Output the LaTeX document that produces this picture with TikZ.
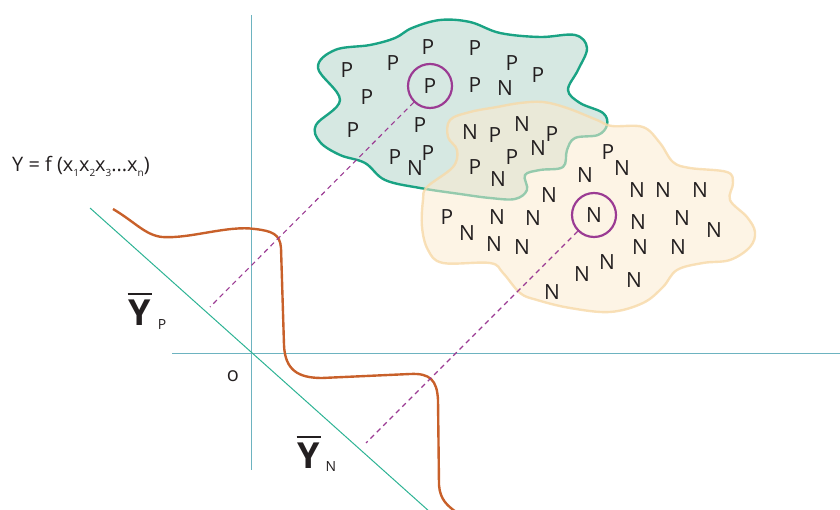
\documentclass[tikz,border=0pt]{standalone}
\usepackage{fontspec}
\setmainfont{Open Sans}
\begin{document}
\begin{tikzpicture}[x=1bp,y=-1bp,
  lt/.style={inner sep=0pt,font=\fontsize{21}{21}\selectfont,text=txt},
  ring/.style={draw=ringc,line width=2.2pt,circle,minimum size=44bp,inner sep=0pt,font=\fontsize{21}{21}\selectfont,text=txt},
  dsh/.style={draw=ringc,line width=1.1pt,dash pattern=on 5bp off 4bp},
  axis/.style={draw=axc,line width=1pt},
  bigY/.style={inner sep=0pt,font=\fontsize{36}{36}\selectfont\bfseries,text=txt},
  smallsub/.style={inner sep=0pt,font=\fontsize{14}{14}\selectfont,text=txt}]
\definecolor{txt}{HTML}{231F20}
\definecolor{ringc}{HTML}{9B3B93}
\definecolor{axc}{HTML}{6DB3C0}
\definecolor{diagc}{HTML}{2DB394}
\definecolor{curvec}{HTML}{C8602A}
\definecolor{gfill}{HTML}{D6E8E2}
\definecolor{gline}{HTML}{1AA384}
\definecolor{ofill}{HTML}{FBEBD0}
\definecolor{oline}{HTML}{F7D9A8}
\useasboundingbox (0,0) rectangle (840,510);
% green blob
\path[fill=gfill,draw=gline,line width=2.4pt] plot[smooth cycle,tension=0.6] coordinates{
(318,68) (335,50) (370,45) (395,38) (412,28) (440,20) (470,22) (500,33) (540,37) (575,35) (587,48) (578,70) (568,90) (580,103) (603,113) (607,125) (598,135) (575,138) (567,150) (563,167) (540,170) (525,175) (527,190) (515,199) (490,198) (460,194) (420,188) (385,180) (365,163) (340,155) (320,142) (316,125) (340,100)};
% orange blob
\path[fill=ofill,fill opacity=0.55,draw=oline,draw opacity=0.8,line width=2.4pt] plot[smooth cycle,tension=0.6] coordinates{
(450,120) (470,112) (497,107) (520,103) (543,102) (567,108) (597,120) (612,126) (643,127) (660,143) (673,162) (690,168) (727,172) (733,183) (730,200) (747,217) (755,232) (750,247) (730,260) (703,263) (677,270) (663,287) (643,303) (610,312) (570,308) (537,300) (520,293) (503,273) (490,263) (443,263) (428,250) (422,227) (423,200) (427,187) (453,167) (457,150) (448,137)};
% axes
\coordinate (vt) at (251,15); \coordinate (vb) at (251,470);
\coordinate (hl) at (172,353); \coordinate (hr) at (840,353);
\draw[axis] (vt) -- (vb);
\draw[axis] (hl) -- (hr);
% diagonal
\coordinate (d1) at (90,208); \coordinate (d2) at (430,512);
\draw[draw=diagc,line width=1pt] (d1) -- (d2);
% curve
\coordinate (c0) at (113,209);
\coordinate (c9) at (456,512);
\draw[draw=curvec,line width=2.4pt,line join=round] (c0) .. controls (135,222) and (145,235) .. (162,237)
  .. controls (190,239) and (228,225) .. (255,229)
  .. controls (272,231) and (280,234) .. (281,248)
  -- (284,345) .. controls (285,370) and (298,378) .. (322,378)
  -- (410,374) .. controls (430,373) and (437,380) .. (438,400)
  -- (439,485) .. controls (440,500) and (448,506) .. (c9);
% letters
\foreach \px/\py/\t [count=\i] in {
347/70/P, 393/63/P, 428/47/P, 475/48/P, 512/63/P, 538/75/P, 367/97/P, 475/85/P, 505/88/N,
353/130/P, 420/125/P, 395/157/P, 415/168/N, 428/153/P,
470/132/N, 495/135/P, 522/124/N, 538/148/N, 552/134/P, 475/167/P, 498/179/N, 512/157/P,
608/152/P, 622/168/N, 585/175/N, 637/190/N, 663/190/N, 700/190/N, 549/195/N,
447/217/P, 467/233/N, 497/217/N, 533/218/N, 494/244/N, 522/247/N,
638/222/N, 682/218/N, 714/230/N, 640/247/N, 678/247/N,
607/262/N, 582/274/N, 634/280/N, 552/292/N}
  \node[lt] (l\i) at (\px,\py) {\t};
% circled letters
\node[ring] (cp) at (430,86) {P};
\node[ring] (cn) at (594,215) {N};
\coordinate (ep) at (210,307);
\coordinate (en) at (366,443);
\draw[dsh] (cp) -- (ep);
\draw[dsh] (cn) -- (en);
% formula
\node[anchor=base west,inner sep=0pt,font=\fontsize{20}{20}\selectfont,text=txt] (fx) at (12,172)
 {Y = f (x\raisebox{-5bp}{\fontsize{10}{10}\selectfont 1}x\raisebox{-5bp}{\fontsize{10}{10}\selectfont 2}x\raisebox{-5bp}{\fontsize{10}{10}\selectfont 3}...x\raisebox{-5bp}{\fontsize{10}{10}\selectfont n})};
% Y bars
\node[bigY] (yp) at (140,313) {Y};
\draw[txt,line width=2.6pt] ([yshift=6bp,xshift=-1bp]yp.north west) -- ([yshift=6bp,xshift=1bp]yp.north east);
\node[smallsub] (sp) at (162,325) {P};
\node[bigY] (yn) at (309,456) {Y};
\draw[txt,line width=2.6pt] ([yshift=6bp,xshift=-1bp]yn.north west) -- ([yshift=6bp,xshift=1bp]yn.north east);
\node[smallsub] (sn) at (331,467) {N};
\node[lt,font=\fontsize{20}{20}\selectfont] (o) at (233,376) {o};
\end{tikzpicture}
\end{document}
